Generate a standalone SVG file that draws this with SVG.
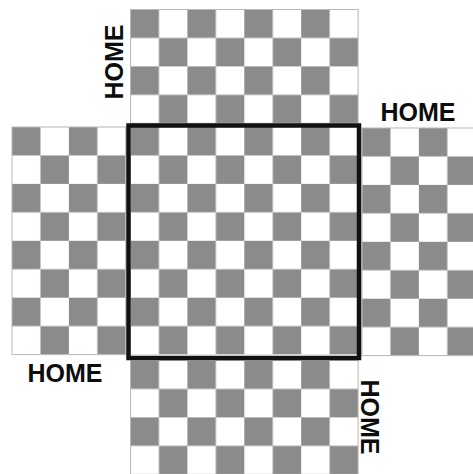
<svg xmlns="http://www.w3.org/2000/svg" width="473" height="474" viewBox="0 0 473 474">
  <style>
    .arm { stroke: #b8b8b8; stroke-width: 1; }
    .lbl { font-family: "Liberation Sans", Arial, sans-serif; font-weight: bold; font-size: 25px; fill: #0d0d0d; text-anchor: middle; }
    .frame { fill: none; stroke: #111; stroke-width: 4.5; }
  </style>
  <defs>
    <pattern id="chk" patternUnits="userSpaceOnUse" x="0" y="0" width="56.9" height="56.9">
      <rect x="0" y="0" width="56.9" height="56.9" fill="#ffffff"/>
      <rect x="0" y="0" width="28.45" height="28.45" fill="#8b8b8b"/>
      <rect x="28.45" y="28.45" width="28.45" height="28.45" fill="#8b8b8b"/>
    </pattern>
  </defs>
  <rect width="473" height="474" fill="#ffffff"/>
  <g id="board">
    <g id="arm-top" transform="translate(130.5,9.5)"><rect class="arm" width="227.6" height="113.8" fill="url(#chk)"/></g>
    <g id="arm-left" transform="translate(12,127)"><rect class="arm" width="113.8" height="227.6" fill="url(#chk)"/></g>
    <g id="center" transform="translate(130.5,127)"><rect width="227.6" height="227.6" fill="url(#chk)"/></g>
    <g id="arm-right" transform="translate(362,128)"><rect class="arm" width="113.8" height="227.6" fill="url(#chk)"/></g>
    <g id="arm-bottom" transform="translate(130.5,360.5)"><rect class="arm" width="227.6" height="113.8" fill="url(#chk)"/></g>
    <rect id="frame" class="frame" x="128.5" y="125.5" width="230.5" height="232.5"/>
  </g>
  <g id="labels">
    <text class="lbl" transform="translate(123,62) rotate(-90)">HOME</text>
    <text class="lbl" x="418" y="121">HOME</text>
    <text class="lbl" x="65" y="382">HOME</text>
    <text class="lbl" transform="translate(361,417) rotate(90)">HOME</text>
  </g>
</svg>
